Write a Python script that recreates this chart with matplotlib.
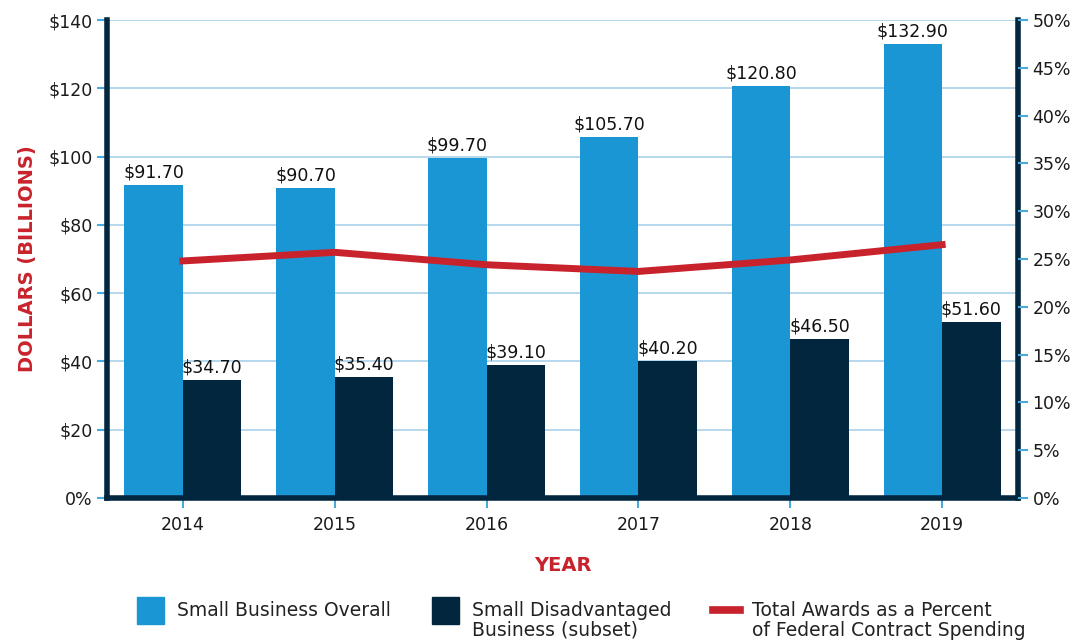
import matplotlib.pyplot as plt
import numpy as np
from matplotlib.patches import Rectangle
from matplotlib.lines import Line2D

years = ["2014", "2015", "2016", "2017", "2018", "2019"]
overall = [91.7, 90.7, 99.7, 105.7, 120.8, 132.9]
disadvantaged = [34.7, 35.4, 39.1, 40.2, 46.5, 51.6]
pct_spending = [24.8, 25.7, 24.4, 23.7, 24.9, 26.5]

legend_labels = [
    "Small Business Overall",
    "Small Disadvantaged\nBusiness (subset)",
    "Total Awards as a Percent\nof Federal Contract Spending",
]

light_blue = "#1b96d4"
navy = "#03263f"
red = "#c8232c"
grid_blue = "#a9d1ea"
tick_blue = "#4aa9dc"

plt.rcParams['font.family'] = ['DejaVu Sans']

W, H = 1079, 642
fig = plt.figure(figsize=(W / 100, H / 100), dpi=100)
ax = fig.add_axes([0.0992, 0.2243, 0.8443, 0.7445])

x = np.arange(len(years))
w = 0.385
b1 = ax.bar(x - w / 2, overall, w, color=light_blue, zorder=3)
b2 = ax.bar(x + w / 2, disadvantaged, w, color=navy, zorder=3)

for bars, vals in [(b1, overall), (b2, disadvantaged)]:
    for rect, v in zip(bars, vals):
        ax.text(rect.get_x() + rect.get_width() / 2, v + 1.0, f"${v:.2f}",
                ha="center", va="bottom", fontsize=12.5, color="#111111", zorder=5)

ax.set_xlim(-0.5, 5.5)
ax.set_ylim(0, 140)
ax.set_yticks(range(0, 141, 20))
ax.set_yticklabels(["0%"] + [f"${v}" for v in range(20, 141, 20)])
ax.set_xticks(x)
ax.set_xticklabels(years)
ax.grid(axis="y", color=grid_blue, linewidth=1.2, zorder=0)
ax.tick_params(axis="both", colors=tick_blue, labelcolor="#1a1a1a",
               labelsize=12.5, length=7, width=1.5)
ax.tick_params(axis="x", pad=6)

for s in ["left", "right", "bottom"]:
    ax.spines[s].set_color(navy)
    ax.spines[s].set_linewidth(4)
    ax.spines[s].set_zorder(6)
ax.spines["top"].set_visible(False)

ax.set_ylabel("DOLLARS (BILLIONS)", color=red, fontsize=14, fontweight="bold",
              labelpad=8)
ax.set_xlabel("YEAR", color=red, fontsize=14, fontweight="bold", labelpad=16)

ax2 = ax.twinx()
ax2.plot(x, pct_spending, color=red, linewidth=5, zorder=4)
ax2.set_ylim(0, 50)
ax2.set_yticks(range(0, 51, 5))
ax2.set_yticklabels([f"{v}%" for v in range(0, 51, 5)])
ax2.tick_params(axis="y", colors=tick_blue, labelcolor="#1a1a1a",
                labelsize=12.5, length=7, width=1.5)
for s in ["left", "right", "bottom", "top"]:
    ax2.spines[s].set_visible(False)

# legend drawn by hand so the handles line up with the first text line
def fx(px):
    return px / W

def fy(py):
    return 1 - py / H

fig.patches.append(Rectangle((fx(137), fy(624)), fx(27), 27 / H, color=light_blue,
                             transform=fig.transFigure, figure=fig))
fig.patches.append(Rectangle((fx(432), fy(624)), fx(27), 27 / H, color=navy,
                             transform=fig.transFigure, figure=fig))
fig.lines.append(Line2D([fx(713), fx(740)], [fy(610), fy(610)], color=red,
                        linewidth=5.5, transform=fig.transFigure, figure=fig))
for lx, lab in zip([177, 472, 752], legend_labels):
    fig.text(fx(lx), fy(601), lab, ha="left", va="top", fontsize=13.5,
             color="#222222", linespacing=1.05)

fig.savefig("out.png", dpi=100)
